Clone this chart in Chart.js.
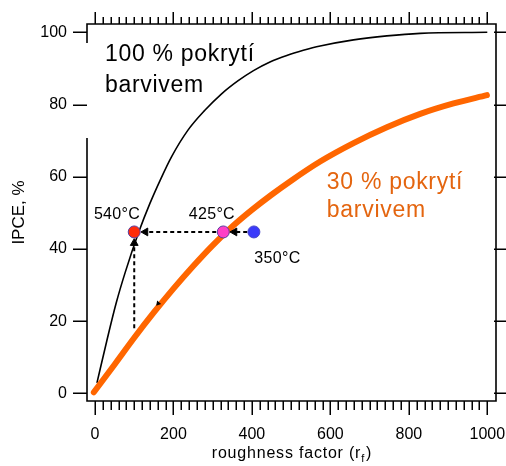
<!DOCTYPE html>
<html>
<head>
<meta charset="utf-8">
<script src="https://cdn.jsdelivr.net/npm/chart.js@4"></script>
<style>
html,body{margin:0;padding:0;background:#fff;}
#wrap{width:506px;height:466px;}
</style>
</head>
<body>
<div id="wrap"><canvas id="c" width="506" height="466" style="width:506px;height:466px"></canvas></div>
<script>
// ---- data ----
const rf100 = [5, 30, 54, 77, 112, 140, 166, 195, 237, 280, 322, 365, 404, 446, 489, 531, 574, 659, 744, 829, 1000];
const ipce100 = [2.9, 14.5, 25.0, 33.5, 44.8, 52.6, 59.0, 65.5, 72.9, 78.4, 82.9, 86.6, 89.4, 91.8, 93.6, 95.0, 96.2, 97.9, 99.0, 99.7, 100];

const rf30 = [-3, 50, 100, 150, 200, 250, 300, 350, 400, 450, 500, 574, 659, 744, 829, 914, 999];
const ipce30 = [0.3, 8.0, 15.4, 22.4, 29.0, 35.2, 41.0, 46.2, 50.8, 55.0, 58.9, 64.2, 69.3, 73.7, 77.4, 80.3, 82.6];

const sampleLabels = ['540°C', '425°C', '350°C'];
const sampleRf = [100, 327, 405];
const sampleIpce = [44.7, 44.7, 44.7];

const xTickValues = [0, 200, 400, 600, 800, 1000];
const xMinorStep = 20;
const yTickValues = [0, 20, 40, 60, 80, 100];

const xTitle = 'roughness factor (r';
const xTitleSub = 'f';
const yTitle = 'IPCE, %';
const label100 = ['100 % pokrytí', 'barvivem'];
const label30 = ['30 % pokrytí', 'barvivem'];

// arrows (start -> head) in data units
const arrowPinkRed = [[309, 44.7], [128.7, 44.7]];
const arrowBluePink = [[388, 44.7], [355.6, 44.7]];
const arrowUp = [[100, 18.0], [100, 41.6]];

// ---- chart ----
const FONT = "'Liberation Sans', Arial, Helvetica, sans-serif";
const toXY = (xs, ys) => xs.map((x, i) => ({x: x, y: ys[i]}));

function arrowDataset(pts, rot) {
  return {
    data: pts.map(p => ({x: p[0], y: p[1]})),
    showLine: true,
    borderColor: '#000',
    borderWidth: 2,
    borderDash: [4, 3],
    pointRadius: [0, 4.5],
    pointStyle: 'triangle',
    rotation: rot,
    pointBackgroundColor: '#000',
    pointBorderColor: '#000',
    pointBorderWidth: 1,
    order: 2
  };
}

const framePlugin = {
  id: 'frame',
  afterDraw(chart) {
    const ctx = chart.ctx;
    const a = chart.chartArea;
    const xs = chart.scales.x, ys = chart.scales.y;
    ctx.save();
    ctx.strokeStyle = '#000';
    ctx.lineWidth = 1.6;
    ctx.lineCap = 'butt';
    // frame (left side has a gap as in the reference)
    ctx.beginPath();
    ctx.moveTo(a.left, a.top); ctx.lineTo(a.right, a.top);
    ctx.lineTo(a.right, a.bottom); ctx.lineTo(a.left, a.bottom);
    ctx.lineTo(a.left, 138);
    ctx.moveTo(a.left, a.top - 0.8); ctx.lineTo(a.left, 43);
    ctx.stroke();
    // x ticks top & bottom
    ctx.lineWidth = 1.5;
    ctx.beginPath();
    for (let v = 0; v <= 1000 + 1e-6; v += xMinorStep) {
      const px = Math.round(xs.getPixelForValue(v)) + 0.25;
      const major = xTickValues.includes(Math.round(v));
      ctx.moveTo(px, a.bottom); ctx.lineTo(px, a.bottom + (major ? 14 : 9));
      ctx.moveTo(px, a.top); ctx.lineTo(px, a.top - (major ? 12 : 7));
    }
    // y ticks left & right
    yTickValues.forEach(v => {
      const py = Math.round(ys.getPixelForValue(v)) + 0.25;
      ctx.moveTo(a.left, py); ctx.lineTo(a.left - 14, py);
      ctx.moveTo(a.right - 2, py); ctx.lineTo(a.right + 10, py);
    });
    ctx.stroke();

    // x axis title with subscript
    ctx.fillStyle = '#000';
    ctx.textBaseline = 'alphabetic';
    ctx.font = '16px ' + FONT;
    if ('letterSpacing' in ctx) ctx.letterSpacing = '0.8px';
    const w1 = ctx.measureText(xTitle).width;
    ctx.font = '11px ' + FONT;
    const w2 = ctx.measureText(xTitleSub).width;
    ctx.font = '16px ' + FONT;
    const w3 = ctx.measureText(')').width;
    const cx = (a.left + a.right) / 2;
    let sx = cx - (w1 + w2 + w3) / 2;
    const by = 458;
    ctx.textAlign = 'left';
    ctx.fillText(xTitle, sx, by);
    ctx.font = '11px ' + FONT;
    ctx.fillText(xTitleSub, sx + w1, by + 4);
    ctx.font = '16px ' + FONT;
    ctx.fillText(')', sx + w1 + w2 + 1, by);

    // sample temperature labels
    const lbl = [[56, 48.4], [298, 48.4], [465, 36.0]];
    ctx.font = '16px ' + FONT;
    if ('letterSpacing' in ctx) ctx.letterSpacing = '0.3px';
    ctx.textAlign = 'center';
    sampleLabels.forEach((t, i) => {
      ctx.fillText(t, xs.getPixelForValue(lbl[i][0]), ys.getPixelForValue(lbl[i][1]));
    });

    // curve labels
    ctx.textAlign = 'left';
    ctx.font = '23px ' + FONT;
    if ('letterSpacing' in ctx) ctx.letterSpacing = '0.7px';
    ctx.fillStyle = '#000';
    ctx.fillText(label100[0], xs.getPixelForValue(25.5), ys.getPixelForValue(92.0));
    ctx.fillText(label100[1], xs.getPixelForValue(25.5), ys.getPixelForValue(83.5));
    ctx.fillStyle = '#E4650F';
    ctx.fillText(label30[0], xs.getPixelForValue(591), ys.getPixelForValue(56.6));
    ctx.fillText(label30[1], xs.getPixelForValue(591), ys.getPixelForValue(48.9));
    ctx.restore();
  }
};

new Chart(document.getElementById('c'), {
  type: 'scatter',
  data: {
    datasets: [
      {
        label: 'samples',
        data: toXY(sampleRf, sampleIpce),
        pointRadius: 6,
        pointBorderWidth: 1,
        pointBackgroundColor: ['#FF2B0A', '#FF3FC6', '#3A3AFA'],
        pointBorderColor: ['#5A3C9E', '#5A3C9E', '#4848C8'],
        showLine: false,
        order: 0
      },
      arrowDataset(arrowPinkRed, 270),
      arrowDataset(arrowBluePink, 270),
      arrowDataset(arrowUp, 0),
      {
        label: 'mark',
        data: [{x: 161, y: 24.9}],
        pointRadius: 3,
        pointStyle: 'triangle',
        pointBackgroundColor: '#000',
        pointBorderColor: '#000',
        pointBorderWidth: 0,
        rotation: -20,
        order: 3
      },
      {
        label: '100 %',
        data: toXY(rf100, ipce100),
        showLine: true,
        borderColor: '#000',
        borderWidth: 1.6,
        pointRadius: 0,
        cubicInterpolationMode: 'monotone',
        order: 5
      },
      {
        label: '30 %',
        data: toXY(rf30, ipce30),
        showLine: true,
        borderColor: '#FF6600',
        borderWidth: 6,
        borderCapStyle: 'round',
        borderJoinStyle: 'round',
        pointRadius: 0,
        cubicInterpolationMode: 'monotone',
        order: 4
      }
    ]
  },
  options: {
    responsive: false,
    animation: false,
    events: [],
    layout: {padding: {left: 0, right: 10, top: 24, bottom: 0}},
    plugins: {legend: {display: false}, tooltip: {enabled: false}},
    scales: {
      x: {
        type: 'linear',
        min: -20.4, max: 1022.2,
        afterBuildTicks: s => { s.ticks = xTickValues.map(v => ({value: v})); },
        afterFit: s => { s.height = 65; s.paddingLeft = 0; s.paddingRight = 0; },
        grid: {display: false, drawTicks: false},
        border: {display: false},
        ticks: {padding: 24, color: '#000', font: {size: 16, family: FONT}, maxRotation: 0, autoSkip: false,
                callback: v => String(v)}
      },
      y: {
        type: 'linear',
        min: -2.13, max: 102.3,
        afterBuildTicks: s => { s.ticks = yTickValues.map(v => ({value: v})); },
        afterFit: s => { s.width = 87; s.paddingTop = 0; s.paddingBottom = 0; },
        grid: {display: false, drawTicks: false},
        border: {display: false},
        ticks: {padding: 20, color: '#000', font: {size: 16, family: FONT}, autoSkip: false,
                callback: v => String(v)},
        title: {display: true, text: yTitle, color: '#000', font: {size: 17, family: FONT}, padding: {top: 9, bottom: 0}}
      }
    }
  },
  plugins: [framePlugin]
});
</script>
</body>
</html>
